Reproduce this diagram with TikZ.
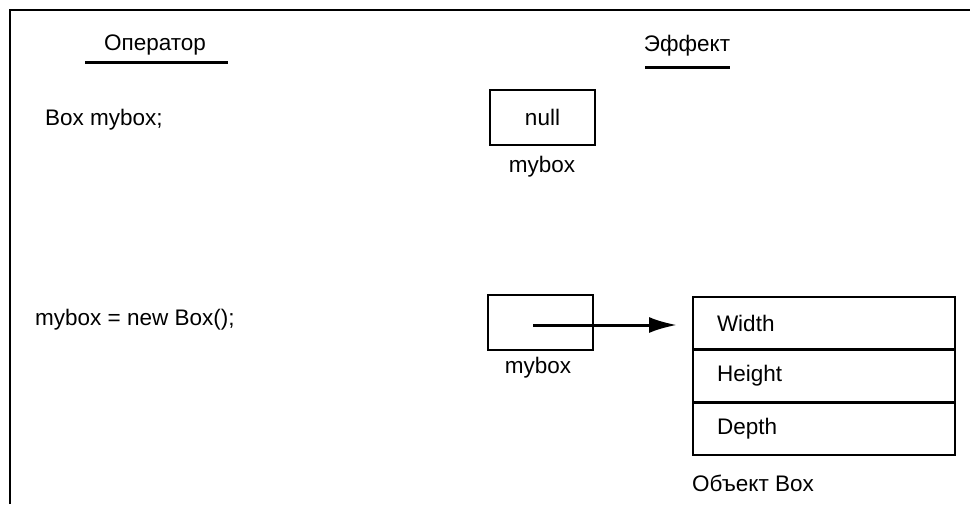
\documentclass[tikz,border=0pt]{standalone}
\usepackage{fontspec}
\setmainfont{Liberation Sans}
\usetikzlibrary{arrows.meta}
\begin{document}
\begin{tikzpicture}[x=1pt,y=-1pt,
  every node/.style={font=\fontsize{22.5}{26}\selectfont, inner sep=0pt},
  refbox/.style={draw, line width=2.6pt, minimum width=105pt, minimum height=55pt},
  field/.style={draw, line width=2.6pt, outer sep=0pt, minimum height=52.7pt, text width=214pt, inner xsep=24pt, align=left, anchor=north west},
  uline/.style={line width=3pt},
  ptr/.style={line width=3pt, -{Latex[length=28pt,width=16pt]}}]
\useasboundingbox (0,0) rectangle (970,504);
% frame
\coordinate (fbl) at (10,504);
\coordinate (ftl) at (10,10);
\coordinate (ftr) at (970,10);
\draw[line width=2.6pt] (fbl) -- (ftl) -- (ftr);
% headings
\node (hop) at (155,45) {Оператор};
\coordinate (hopA) at (85,62);
\coordinate (hopB) at (228,62);
\draw[uline] (hopA) -- (hopB);
\node (hef) at (687,46) {Эффект};
\coordinate (hefA) at (645,67);
\coordinate (hefB) at (730,67);
\draw[uline] (hefA) -- (hefB);
% statements
\node[anchor=west] (s1) at (45,120) {Box mybox;};
\node[anchor=west] (s2) at (35,320) {mybox = new Box();};
% first effect
\node[refbox] (b1) at (542.5,117.5) {null};
\node (b1l) at (542,167) {mybox};
% second effect
\node[refbox] (b2) at (540.5,322.5) {};
\node (b2l) at (538,368) {mybox};
\node[field] (fw) at (693,297) {Width};
\node[field] (fh) at (fw.south west) {Height};
\node[field] (fd) at (fh.south west) {Depth};
\node[anchor=west] (ob) at (692,483) {Объект Box};
\coordinate (ps) at (533,325);
\draw[ptr] (ps) -- ([xshift=-16pt]ps -| fw.west);
\end{tikzpicture}
\end{document}
